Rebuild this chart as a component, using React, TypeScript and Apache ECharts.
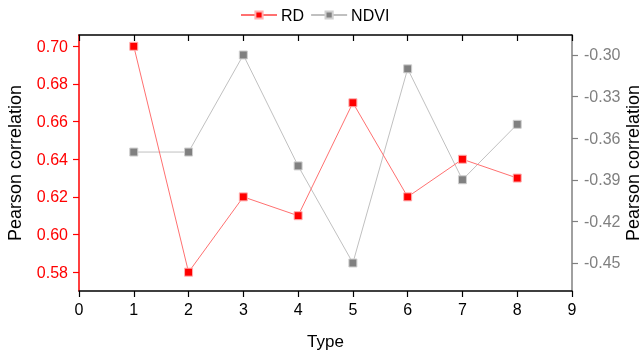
import React, { useEffect, useRef } from "react";
import * as echarts from "echarts";

const types = [1, 2, 3, 4, 5, 6, 7, 8];
const rdValues = [0.70, 0.58, 0.62, 0.61, 0.67, 0.62, 0.64, 0.63];
const ndviValues = [-0.37, -0.37, -0.30, -0.38, -0.45, -0.31, -0.39, -0.35];
const xTicks = [0, 1, 2, 3, 4, 5, 6, 7, 8, 9];
const leftTicks = [0.58, 0.60, 0.62, 0.64, 0.66, 0.68, 0.70];
const rightTicks = [-0.45, -0.42, -0.39, -0.36, -0.33, -0.30];

const FONT = "Liberation Sans, Arial, sans-serif";

export default function App() {
  const ref = useRef<HTMLDivElement>(null);
  useEffect(() => {
    if (!ref.current) return;
    const chart = echarts.init(ref.current, null, { renderer: "svg" });
    chart.setOption({
      animation: false,
      textStyle: { fontFamily: FONT },
      legend: {
        top: 2,
        left: 235,
        itemWidth: 36,
        itemHeight: 9,
        itemGap: 6,
        textStyle: { fontSize: 16, color: "#000", fontFamily: FONT, padding: [0, 0, 0, -1] },
        data: ["RD", "NDVI"],
      },
      grid: { left: 79, right: 72, top: 35, bottom: 62, outerBoundsMode: "none", containLabel: false },
      xAxis: [
        {
          type: "value",
          position: "bottom",
          min: 0,
          max: 9,
          interval: 1,
          name: "Type",
          nameLocation: "middle",
          nameGap: 42,
          nameMoveOverlap: false,
          nameTextStyle: { fontSize: 17, color: "#000", fontFamily: FONT },
          axisLine: { show: true, onZero: false, lineStyle: { color: "#000", width: 1.5 } },
          axisTick: { show: true, inside: false, length: 6, lineStyle: { color: "#000", width: 1.2 } },
          axisLabel: {
            color: "#000",
            fontSize: 16,
            margin: 10,
            fontFamily: FONT,
            customValues: xTicks,
          },
          splitLine: { show: false },
        },
        {
          type: "value",
          position: "top",
          min: 0,
          max: 9,
          interval: 1,
          axisLine: { show: true, onZero: false, lineStyle: { color: "#000", width: 1.5 } },
          axisTick: { show: true, inside: true, length: 6, lineStyle: { color: "#000", width: 1.2 } },
          axisLabel: { show: false },
          splitLine: { show: false },
        },
      ],
      yAxis: [
        {
          type: "value",
          position: "left",
          min: 0.57,
          max: 0.706,
          name: "Pearson correlation",
          nameLocation: "middle",
          nameGap: 55,
          nameMoveOverlap: false,
          nameRotate: 90,
          nameTextStyle: { fontSize: 18, color: "#000", fontFamily: FONT },
          axisLine: { show: true, onZero: false, lineStyle: { color: "#ff0000", width: 1.5 } },
          axisTick: {
            show: true,
            length: 6,
            customValues: leftTicks,
            lineStyle: { color: "#ff0000", width: 1.2 },
          },
          axisLabel: {
            color: "#ff0000",
            fontSize: 16,
            margin: 11,
            fontFamily: FONT,
            customValues: leftTicks,
            formatter: (v: number) => v.toFixed(2),
          },
          splitLine: { show: false },
        },
        {
          type: "value",
          position: "right",
          min: -0.4702,
          max: -0.2856,
          name: "Pearson correlation",
          nameLocation: "middle",
          nameGap: 52,
          nameMoveOverlap: false,
          nameRotate: 90,
          nameTextStyle: { fontSize: 18, color: "#000", fontFamily: FONT },
          axisLine: { show: true, onZero: false, lineStyle: { color: "#808080", width: 1.5 } },
          axisTick: {
            show: true,
            length: 6,
            customValues: rightTicks,
            lineStyle: { color: "#808080", width: 1.2 },
          },
          axisLabel: {
            color: "#808080",
            fontSize: 16,
            margin: 12,
            fontFamily: FONT,
            customValues: rightTicks,
            formatter: (v: number) => v.toFixed(2),
          },
          splitLine: { show: false },
        },
      ],
      series: [
        {
          name: "RD",
          type: "line",
          xAxisIndex: 0,
          yAxisIndex: 0,
          data: types.map((t, i) => [t, rdValues[i]]),
          symbol: "rect",
          symbolSize: 8,
          lineStyle: { color: "#ff7070", width: 1 },
          itemStyle: { color: "#ff0000", borderColor: "#ffb0b0", borderWidth: 1 },
          z: 3,
        },
        {
          name: "NDVI",
          type: "line",
          xAxisIndex: 0,
          yAxisIndex: 1,
          data: types.map((t, i) => [t, ndviValues[i]]),
          symbol: "rect",
          symbolSize: 8,
          lineStyle: { color: "#c0c0c0", width: 1 },
          itemStyle: { color: "#808080", borderColor: "#d0d0d0", borderWidth: 1 },
          z: 2,
        },
      ],
    });
    return () => chart.dispose();
  }, []);
  return (
    <div
      ref={ref}
      style={{ position: "fixed", left: 0, top: 0, width: 644, height: 353 }}
    />
  );
}
